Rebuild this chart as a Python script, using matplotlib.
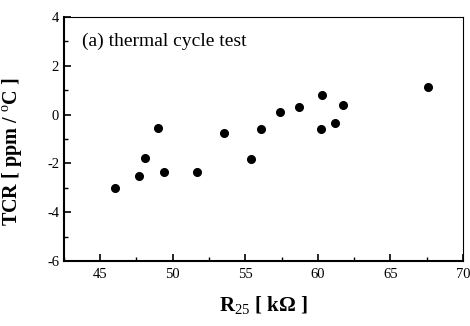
import numpy as np
import matplotlib
matplotlib.use('Agg')
import matplotlib.pyplot as plt
from matplotlib.ticker import MultipleLocator

# R25 [kOhm] and TCR [ppm/C]
r25 = [46.0, 47.7, 48.1, 49.0, 49.4, 51.7, 53.5, 55.4, 56.1, 57.4, 58.7, 60.3, 60.2, 61.2, 61.7, 67.6]
tcr = [-3.0, -2.5, -1.77, -0.56, -2.37, -2.34, -0.74, -1.83, -0.60, 0.12, 0.30, 0.80, -0.60, -0.33, 0.41, 1.13]

plt.rcParams['font.family'] = ['Liberation Serif', 'DejaVu Serif']
plt.rcParams['mathtext.fontset'] = 'custom'
plt.rcParams['mathtext.rm'] = 'Liberation Serif'
plt.rcParams['mathtext.bf'] = 'Liberation Serif:bold'
plt.rcParams['axes.unicode_minus'] = False

fig = plt.figure(figsize=(4.7, 3.26), dpi=100)
ax = fig.add_axes([0.136, 0.199, 0.849, 0.749])
ax.plot(r25, tcr, 'o', color='black', markersize=5.5)

ax.set_xlim(42.5, 70)
ax.set_ylim(-6, 4)
ax.xaxis.set_major_locator(MultipleLocator(5))
ax.xaxis.set_minor_locator(MultipleLocator(2.5))
ax.yaxis.set_major_locator(MultipleLocator(2))
ax.yaxis.set_minor_locator(MultipleLocator(1))
ax.tick_params(which='both', direction='in', top=False, right=False, labelsize=10.5)
ax.tick_params(axis='x', which='major', pad=5)
ax.tick_params(which='major', length=5, width=1.2)
ax.tick_params(which='minor', length=3, width=1.0)
ax.spines['left'].set_linewidth(1.5)
ax.spines['bottom'].set_linewidth(1.5)
ax.spines['top'].set_linewidth(0.8)
ax.spines['right'].set_linewidth(0.8)

ax.text(0.045, 0.90, '(a) thermal cycle test', transform=ax.transAxes,
        fontsize=14, va='center', ha='left')
ax.set_xlabel('R$_{\\mathrm{25}}$ [ kΩ ]', fontsize=15, fontweight='bold')
ax.set_ylabel('TCR [ ppm / $^{\\mathrm{o}}$C ]', fontsize=14.5, fontweight='bold')
ax.xaxis.set_label_coords(0.5, -0.135)
ax.yaxis.set_label_coords(-0.1, 0.45)

fig.savefig('out.png', dpi=100)
